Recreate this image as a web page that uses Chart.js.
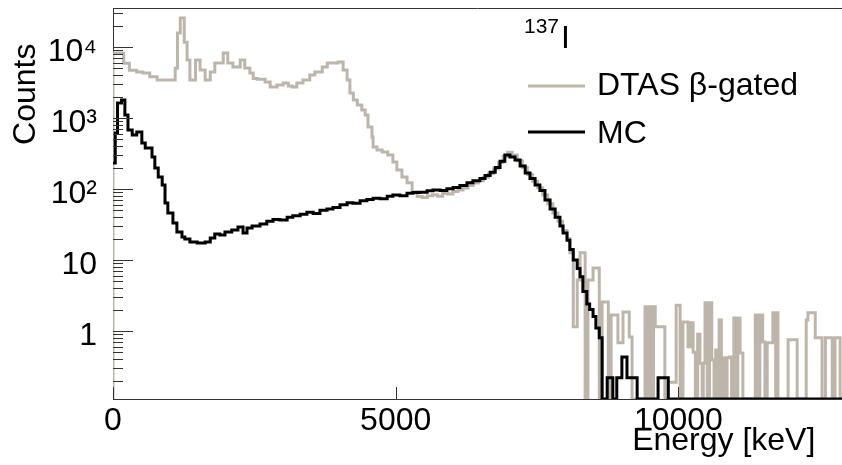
<!DOCTYPE html>
<html><head><meta charset="utf-8">
<script src="https://cdn.jsdelivr.net/npm/chart.js@4.4.1/dist/chart.umd.min.js"></script>
<style>html,body{margin:0;padding:0;background:#fff;}canvas{display:block;}</style>
</head><body>
<canvas id="c" width="842" height="465"></canvas>
<script>
// ---- data (energy = bin low edge in keV, counts per bin) ----
const xTickValues = [0, 5000, 10000];
const xTickLabels = ['0', '5000', '10000'];
const yTickValues = [1, 10, 100, 1000, 10000];
const yTickLabels = ['1', '10', '10²', '10³', '10⁴'];
const seriesNames = ['DTAS β-gated', 'MC'];
const isotopeMass = '137';
const isotopeSymbol = 'I';
const energyMax = 12893;
const countsMin = 0.11;
const countsMax = 35400;

const dtasEnergy = [0,190,290,420,530,650,780,1100,1140,1190,1260,1310,1360,1460,1540,1630,1720,1800,1950,2030,2120,2250,2330,2420,2480,2550,2690,2780,2900,3010,3100,3170,3250,3360,3480,3570,3700,3790,3980,4070,4140,4190,4250,4320,4400,4460,4510,4580,4600,4670,4760,4860,4950,5020,5110,5200,5290,5380,5470,5560,5650,5740,5830,5920,6010,6100,6190,6280,6370,6460,6550,6640,6730,6820,6900,6980,7060,7150,7240,7330,7420,7510,7600,7690,7780,7870,7950,
8030,8080,8140,8210,8260,8350,8400,8490,8600,8650,8760,8810,8930,9020,9130,9180,9410,9450,9490,9530,9560,9590,9760,9820,9960,10030,10080,10170,10210,10260,10300,10340,10380,10420,10440,10470,10510,10550,10590,10630,10660,10700,10720,10760,10790,10830,10860,10900,10940,10980,11030,11050,11090,11140,11360,11400,11440,11490,11530,11570,11670,11720,11740,11760,11940,12100,12260,12290,12420,12540,12600,12720,12770,12860];
const dtasCounts = [8200,5900,4700,4450,4300,3800,3430,5000,15700,25600,11700,6560,3430,6560,4740,3430,4450,5960,8230,5960,5220,6560,5060,4300,3600,3500,3210,2730,2920,3110,2830,2730,3110,3430,4030,4450,5220,5960,6150,4740,3430,2250,1795,1525,1297,1100,747,540,390,354,332,301,240,185,147,122,91,78,76,80,83,79,86,85,92,97,103,112,121,131,146,164,192,235,290,330,300,250,200,160,128,104,82,62,46,35,26,
20,12.6,1.15,5.2,12.6,0,5.2,7.7,0,2.56,0,1.68,0.68,1.85,0.82,0,2.2,0,2.2,0,2.2,1.15,0,0.19,2.3,0,1.34,0.6,1.3,0.5,0,0.9,0.35,0,0.35,2.5,0,2.5,0.39,0,0.54,0,1.43,0,0.42,0,0.42,0.43,0,1.52,0,1.52,0.49,0,1.68,0,1.68,0.7,0,0.68,1.8,0,1.8,0,0.75,0,1.43,1.8,0.8,0,0.8,0,0.8,0];

const mcEnergy = [0,40,80,150,210,265,340,420,510,570,690,740,800,870,920,970,1060,1130,1220,1270,1360,1490,1630,1720,1800,1890,1980,2100,2210,2300,2370,2460,2600,2720,2830,2950,3080,3180,3310,3430,3540,3660,3785,3890,4015,4140,4245,4370,4490,4600,4720,4850,4950,5075,5200,5305,5430,5555,5660,5785,5905,6015,6135,6260,6365,6490,6580,6670,6760,6845,6930,7020,7110,7200,7290,7375,7465,7550,7640,7730,7820,7905,7960,8030,8080,8140,8210,8260,8310,8380,8430,8490,8540,8600,8650,8740,8840,8910,9000,9090,9270,9640,9820];
const mcCounts = [232,615,1626,1795,1100,678,577,635,445,378,282,198,147,114,63.5,45.9,33.2,24.8,21.1,19.8,17.9,17.3,17.9,20.4,23.2,22.5,24.8,26.4,29.1,24.0,28.2,30,32,35,37,36.6,40,42,44,47,45,50,52,55,60,64,63,68,71,74,73,79,82,80,87,89,90,94,97,95,101,105,112,122,130,140,155,172,200,245,300,282,256,210,168,140,114,95,70,52,40,30,24,19,14,10,7.6,5.8,3.6,2.4,2.0,1.6,1.1,0.8,0,0.22,0,0.22,0.43,0.22,0,0.22,0];

// ---- build histogram outlines (empty bins sit on the axis floor, as in ROOT) ----
function histPoints(edges, counts, fromBaseline) {
  const floor = c => (c > countsMin ? c : countsMin);
  const pts = [];
  if (fromBaseline) pts.push({x: edges[0], y: countsMin});
  for (let i = 0; i < edges.length; i++) pts.push({x: edges[i], y: floor(counts[i])});
  pts.push({x: energyMax, y: floor(counts[counts.length - 1])});
  return pts;
}

const FONT = '"Liberation Sans", Arial, Helvetica, sans-serif';
const GRAY = 'rgb(190,181,170)';

const rootStyle = {
  id: 'rootStyle',
  afterDatasetsDraw(chart) {
    const {ctx, chartArea: a, scales: {x, y}} = chart;
    ctx.save();
    ctx.strokeStyle = '#333';
    ctx.lineWidth = 1;
    ctx.beginPath();
    ctx.moveTo(a.left, a.top + 0.5); ctx.lineTo(a.right, a.top + 0.5);
    for (let e = -1; e <= 4; e++) {
      for (let k = 1; k <= 9; k++) {
        const v = k * Math.pow(10, e);
        if (v < y.min || v > y.max) continue;
        const py = Math.round(y.getPixelForValue(v)) + 0.5;
        ctx.moveTo(a.left, py); ctx.lineTo(a.left + (k === 1 ? 20 : 10), py);
      }
    }
    for (const v of xTickValues) {
      const px = Math.round(x.getPixelForValue(v)) + 0.5;
      ctx.moveTo(px, a.bottom); ctx.lineTo(px, a.bottom - 12);
    }
    ctx.stroke();

    // legend
    const ds = chart.data.datasets;
    const rows = [{i: 0, ly: 86, ty: 95}, {i: 1, ly: 132, ty: 143}];
    ctx.font = '32px ' + FONT;
    ctx.textBaseline = 'alphabetic';
    ctx.textAlign = 'left';
    for (const r of rows) {
      const d = ds[r.i];
      ctx.strokeStyle = d.borderColor; ctx.lineWidth = 3;
      ctx.beginPath(); ctx.moveTo(528, r.ly); ctx.lineTo(585, r.ly); ctx.stroke();
      ctx.fillStyle = '#000';
      ctx.fillText(d.label, 597, r.ty);
    }
    // isotope label
    ctx.font = '21px ' + FONT;
    ctx.fillText(isotopeMass, 524, 33);
    ctx.font = '32px ' + FONT;
    ctx.fillText(isotopeSymbol, 561, 48);
    ctx.restore();
  }
};

new Chart(document.getElementById('c'), {
  type: 'line',
  data: {
    datasets: [
      {label: seriesNames[0], data: histPoints(dtasEnergy, dtasCounts, true), borderColor: GRAY, borderWidth: 3, stepped: true, pointRadius: 0, fill: false, order: 1},
      {label: seriesNames[1], data: histPoints(mcEnergy, mcCounts, false), borderColor: '#000', borderWidth: 3, stepped: true, pointRadius: 0, fill: false, order: 0}
    ]
  },
  options: {
    responsive: false,
    animation: false,
    devicePixelRatio: 1,
    layout: {padding: {top: 8, right: 0, bottom: 0, left: 0}},
    plugins: {legend: {display: false}, tooltip: {enabled: false}},
    scales: {
      x: {
        type: 'linear', min: 0, max: energyMax,
        afterBuildTicks: s => { s.ticks = xTickValues.map(v => ({value: v})); },
        afterFit: s => { s.height = 66; s.paddingLeft = 0; s.paddingRight = 0; },
        grid: {display: false, drawTicks: false},
        border: {display: true, color: '#333', width: 1},
        ticks: {padding: 3, autoSkip: false, maxRotation: 0, color: '#000', font: {family: FONT, size: 32},
          callback: v => { const i = xTickValues.indexOf(v); return i >= 0 ? xTickLabels[i] : ''; }},
        title: {display: true, text: 'Energy [keV]\u00a0\u00a0\u00a0', align: 'end', color: '#000', font: {family: FONT, size: 32}, padding: {top: 0, bottom: 5}}
      },
      y: {
        type: 'logarithmic', min: countsMin, max: countsMax,
        afterBuildTicks: s => { s.ticks = yTickValues.map(v => ({value: v})); },
        afterFit: s => { s.width = 113; s.paddingTop = 0; s.paddingBottom = 0; },
        grid: {display: false, drawTicks: false},
        border: {display: true, color: '#333', width: 1},
        ticks: {padding: 16, labelOffset: 5, autoSkip: false, color: '#000', font: {family: FONT, size: 32},
          callback: v => { const i = yTickValues.indexOf(v); return i >= 0 ? yTickLabels[i] : ''; }},
        title: {display: true, text: 'Counts\u00a0\u00a0\u00a0\u00a0', align: 'end', color: '#000', font: {family: FONT, size: 32}, padding: {top: 7, bottom: 0}}
      }
    }
  },
  plugins: [rootStyle]
});
</script>
</body></html>
